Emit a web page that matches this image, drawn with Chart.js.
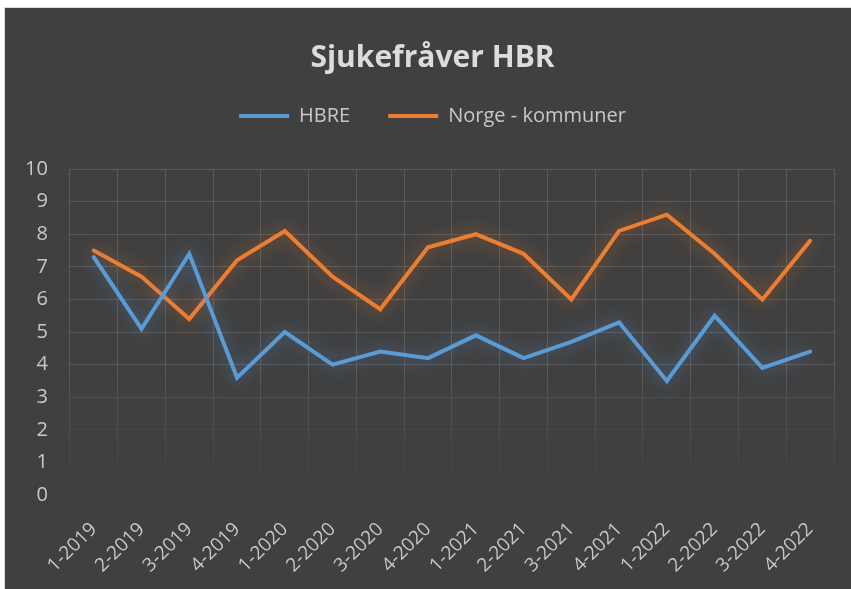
<!DOCTYPE html>
<html>
<head>
<meta charset="utf-8">
<script src="https://cdn.jsdelivr.net/npm/chart.js@4"></script>
<style>
  html, body { margin: 0; padding: 0; background: #fff; }
  #wrap {
    position: absolute; left: 4px; top: 7px; width: 847px; height: 582px;
    background: #404040; border-left: 1px solid #d9d9d9; border-top: 1px solid #d9d9d9;
  }
</style>
</head>
<body>
<div id="wrap"><canvas id="chart"></canvas></div>
<script>
const quarters = ["1-2019","2-2019","3-2019","4-2019","1-2020","2-2020","3-2020","4-2020",
                  "1-2021","2-2021","3-2021","4-2021","1-2022","2-2022","3-2022","4-2022"];
const hbre = [7.3, 5.1, 7.4, 3.6, 5.0, 4.0, 4.4, 4.2, 4.9, 4.2, 4.7, 5.3, 3.5, 5.5, 3.9, 4.4];
const norge = [7.5, 6.7, 5.4, 7.2, 8.1, 6.7, 5.7, 7.6, 8.0, 7.4, 6.0, 8.1, 8.6, 7.4, 6.0, 7.8];
const yTicks = [0, 1, 2, 3, 4, 5, 6, 7, 8, 9, 10];

const gridCol = "#5a5a5a";
const textCol = "#c8c8c8";

// soft glow under each line
const glow = {
  id: "glow",
  beforeDatasetDraw(chart, args) {
    const ds = chart.data.datasets[args.index];
    chart.ctx.save();
    chart.ctx.shadowColor = ds.glowColor;
    chart.ctx.shadowBlur = 18;
  },
  afterDatasetDraw(chart) {
    chart.ctx.restore();
  }
};

// extra room under the legend
const legendGap = {
  id: "legendGap",
  beforeInit(chart) {
    const fit = chart.legend.fit;
    chart.legend.fit = function () {
      fit.bind(chart.legend)();
      this.height += 33;
    };
  }
};

function fadeGrad(ctx) {
  const chart = ctx.chart;
  const area = chart.chartArea;
  if (!area) return gridCol;
  const y = chart.scales.y;
  const g = chart.ctx.createLinearGradient(0, area.top, 0, area.bottom);
  const p4 = (y.getPixelForValue(4) - area.top) / (area.bottom - area.top);
  g.addColorStop(0, gridCol);
  g.addColorStop(Math.max(0, p4), gridCol);
  g.addColorStop(1, "rgba(90,90,90,0)");
  return g;
}

new Chart(document.getElementById("chart"), {
  type: "line",
  data: {
    labels: quarters,
    datasets: [
      { label: "HBRE", data: hbre, borderColor: "#5b9bd5", backgroundColor: "#5b9bd5",
        glowColor: "rgba(91,155,213,0.6)", borderWidth: 4, pointRadius: 0,
        borderCapStyle: "round", borderJoinStyle: "miter", tension: 0 },
      { label: "Norge - kommuner", data: norge, borderColor: "#ed7d31", backgroundColor: "#ed7d31",
        glowColor: "rgba(237,125,49,0.6)", borderWidth: 4, pointRadius: 0,
        borderCapStyle: "round", borderJoinStyle: "miter", tension: 0 }
    ]
  },
  options: {
    responsive: true,
    maintainAspectRatio: false,
    animation: false,
    layout: { padding: { left: -2, right: -10, bottom: -10 } },
    plugins: {
      title: {
        display: true, text: "Sjukefråver HBR", color: "#dcdcdc",
        font: { family: "Open Sans", size: 30, weight: "bold" },
        padding: { top: 32, bottom: -8 }
      },
      legend: {
        labels: {
          color: textCol, font: { family: "Open Sans", size: 20 },
          usePointStyle: true, pointStyle: "line", pointStyleWidth: 50, padding: 38
        }
      },
      tooltip: { enabled: false }
    },
    scales: {
      x: {
        offset: true,
        afterFit(scale) {
          scale.paddingLeft = 0;
          scale.paddingRight = 18;
        },
        grid: { offset: true, color: fadeGrad, drawTicks: false },
        border: { display: false },
        ticks: { color: textCol, font: { family: "Open Sans", size: 19 },
                 minRotation: 45, maxRotation: 45, padding: 23 }
      },
      y: {
        min: 0, max: 10,
        afterBuildTicks(scale) { scale.ticks = yTicks.map(v => ({ value: v })); },
        grid: {
          drawTicks: false,
          color(ctx) {
            const v = ctx.tick.value;
            if (v >= 4) return gridCol;
            if (v === 3) return "rgba(90,90,90,0.55)";
            if (v === 2) return "rgba(90,90,90,0.3)";
            if (v === 1) return "rgba(90,90,90,0.12)";
            return "rgba(90,90,90,0)";
          }
        },
        border: { display: false },
        ticks: { color: textCol, font: { family: "Open Sans", size: 20 }, padding: 22 }
      }
    }
  },
  plugins: [glow, legendGap]
});
</script>
</body>
</html>
